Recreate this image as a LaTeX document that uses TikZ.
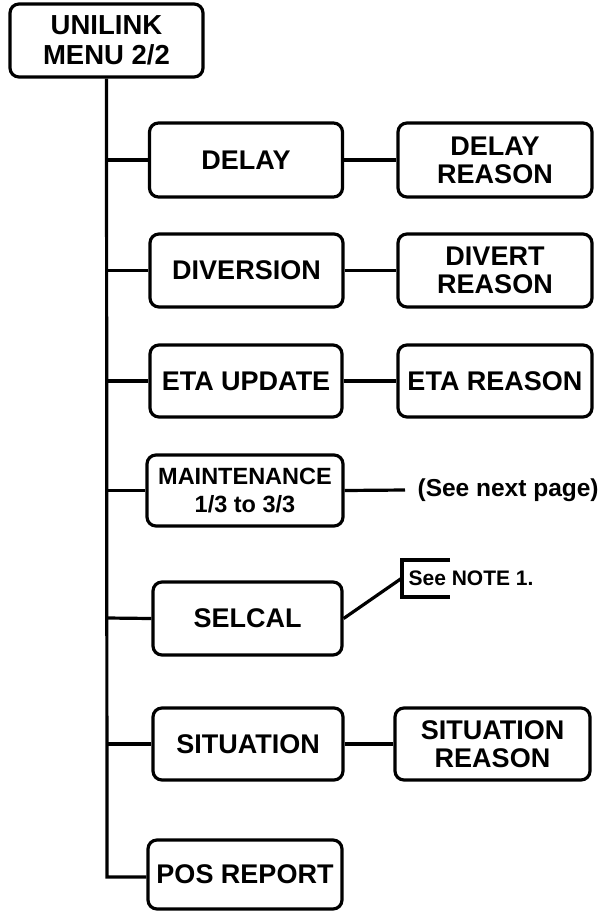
\documentclass[tikz,border=0pt]{standalone}
\usepackage{fontspec}
\setmainfont{Liberation Sans}
\begin{document}
\begin{tikzpicture}[x=1pt,y=-1pt,line width=3.2pt,
  box/.style={draw,line width=3.2pt,rounded corners=9pt,inner sep=0pt,align=center,
    font=\fontsize{27}{28}\selectfont\bfseries},
  conn/.style={draw,line width=3.2pt}]
\useasboundingbox (0,0) rectangle (600,911);
\node[box,minimum width=193pt,minimum height=73pt,font=\fontsize{27.5}{30}\selectfont\bfseries] (top) at (106.5,40.5) {UNILINK\\MENU 2/2};
\node[box,minimum width=193pt,minimum height=74pt] (delay) at (246,160) {DELAY};
\node[box,minimum width=194pt,minimum height=74pt] (delayr) at (495,160) {DELAY\\REASON};
\node[box,minimum width=193pt,minimum height=73pt] (div) at (246.5,270.5) {DIVERSION};
\node[box,minimum width=194pt,minimum height=73pt] (divr) at (495,270.5) {DIVERT\\REASON};
\node[box,minimum width=192pt,minimum height=72pt] (eta) at (246,381) {ETA UPDATE};
\node[box,minimum width=194pt,minimum height=72pt] (etar) at (495,381) {ETA REASON};
\node[box,minimum width=196pt,minimum height=71pt,font=\fontsize{23.5}{28.5}\selectfont\bfseries] (maint) at (245,490.5) {MAINTENANCE\\1/3 to 3/3};
\node[box,minimum width=189pt,minimum height=73pt] (selcal) at (247.5,618.5) {SELCAL};
\node[box,minimum width=190pt,minimum height=72pt] (sit) at (248,744) {SITUATION};
\node[box,minimum width=195pt,minimum height=72pt] (sitr) at (492.5,744) {SITUATION\\REASON};
\node[box,minimum width=194pt,minimum height=69pt] (pos) at (245,874.5) {POS REPORT};
\node[anchor=west,inner sep=0pt,font=\fontsize{24.5}{28}\selectfont\bfseries] (next) at (416,490) {(See next page)};
\node[anchor=west,inner sep=0pt,font=\fontsize{21}{24}\selectfont\bfseries] (note) at (407,578.5) {See NOTE 1.};
\coordinate (nextend) at (405,490);
\coordinate (brk) at (402,578);
\coordinate (t1) at (107,160);
\coordinate (t2) at (107,270.5);
\coordinate (t3) at (107,381);
\coordinate (t4) at (107,490.5);
\coordinate (t5) at (107,618);
\coordinate (t6) at (107,744);
\coordinate (t7) at (107,877);
\draw[conn] (top.south) -- (t7) -- (t7 -| pos.west);
\draw[conn] (t1) -- (delay.west);
\draw[conn] (t2) -- (div.west);
\draw[conn] (t3) -- (eta.west);
\draw[conn] (t4) -- (maint.west);
\draw[conn] (t5) -- (selcal.west);
\draw[conn] (t6) -- (sit.west);
\draw[conn] (delay.east) -- (delayr.west);
\draw[conn] (div.east) -- (divr.west);
\draw[conn] (eta.east) -- (etar.west);
\draw[conn] (sit.east) -- (sitr.west);
\draw[conn] (maint.east) -- (nextend);
\draw[conn] (selcal.east) -- (brk);
\draw[conn] (450,560) -| (402,597) -- (450,597);
\end{tikzpicture}
\end{document}
